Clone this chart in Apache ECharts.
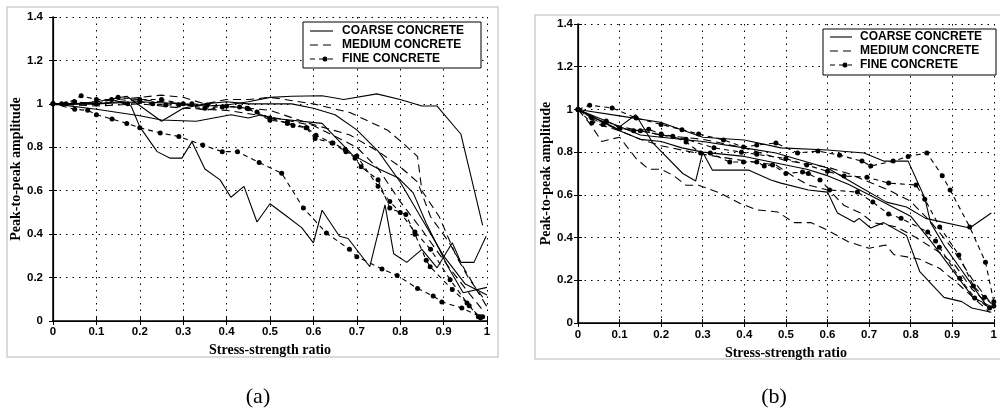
<!DOCTYPE html>
<html><head><meta charset="utf-8">
<script src="https://cdn.jsdelivr.net/npm/echarts@6/dist/echarts.min.js"></script>
<style>html,body{margin:0;padding:0;background:#fff}#c{width:1000px;height:415px}</style>
</head><body><div id="c"></div>
<script>
const seriesNames = ['COARSE CONCRETE', 'MEDIUM CONCRETE', 'FINE CONCRETE'];
const xLabel = 'Stress-strength ratio';
const yLabel = 'Peak-to-peak amplitude';
const panelLabels = ['(a)', '(b)'];
const xRange = [0, 1, 0.1];
const yRange = [0, 1.4, 0.2];

// ---- panel (a) ----
const a_coarse1 = [[0,1],[0.1,1.0],[0.2,1.01],[0.3,1.0],[0.35,0.99],[0.4,0.995],[0.45,1.01],[0.5,1.03],[0.55,1.035],[0.62,1.037],[0.67,1.02],[0.746,1.046],[0.8,1.02],[0.85,0.99],[0.885,0.99],[0.94,0.86],[0.99,0.44]];
const a_coarse2 = [[0,1],[0.05,1.0],[0.1,1.0],[0.15,1.01],[0.18,0.99],[0.2,0.894],[0.24,0.78],[0.27,0.75],[0.297,0.75],[0.32,0.825],[0.35,0.70],[0.385,0.65],[0.41,0.57],[0.44,0.62],[0.47,0.456],[0.5,0.54],[0.54,0.48],[0.573,0.43],[0.6,0.36],[0.62,0.51],[0.66,0.39],[0.68,0.38],[0.73,0.25],[0.765,0.535],[0.785,0.31],[0.815,0.27],[0.85,0.33],[0.885,0.245],[0.92,0.36],[0.94,0.27],[0.97,0.27],[0.998,0.39]];
const a_coarse3 = [[0,1],[0.1,0.975],[0.2,0.945],[0.25,0.926],[0.33,0.92],[0.41,0.95],[0.45,0.935],[0.48,0.95],[0.5,0.935],[0.62,0.91],[0.69,0.765],[0.746,0.705],[0.795,0.66],[0.83,0.59],[0.86,0.45],[0.91,0.25],[0.945,0.13],[1.0,0.155]];
const a_coarse4 = [[0,1],[0.05,1.0],[0.1,1.01],[0.17,1.035],[0.25,0.92],[0.3,0.98],[0.35,1.0],[0.4,1.01],[0.45,1.0],[0.5,1.0],[0.55,1.0],[0.6,0.98],[0.65,0.95],[0.7,0.88],[0.75,0.78],[0.8,0.64],[0.85,0.47],[0.9,0.3],[0.95,0.17],[1.0,0.12]];
const a_medium1 = [[0,1],[0.05,1.0],[0.1,1.01],[0.15,1.02],[0.2,1.03],[0.25,1.04],[0.3,1.03],[0.35,1.0],[0.4,1.02],[0.45,1.02],[0.5,1.03],[0.6,1.0],[0.684,0.96],[0.77,0.88],[0.806,0.82],[0.84,0.757],[0.85,0.6],[0.89,0.48],[0.93,0.295],[0.96,0.19],[0.99,0.11]];
const a_medium2 = [[0,1],[0.1,1.0],[0.2,1.02],[0.3,1.0],[0.35,0.97],[0.4,0.99],[0.45,0.98],[0.5,0.97],[0.59,0.91],[0.684,0.857],[0.75,0.78],[0.8,0.71],[0.84,0.64],[0.87,0.48],[0.91,0.37],[0.945,0.25],[0.977,0.14],[1.0,0.065]];
const a_medium3 = [[0,1],[0.1,0.99],[0.2,1.0],[0.3,0.98],[0.4,0.97],[0.5,0.94],[0.6,0.9],[0.7,0.8],[0.75,0.7],[0.8,0.55],[0.85,0.42],[0.9,0.28],[0.95,0.15],[0.99,0.05]];
const a_fine1 = [[0,1],[0.05,0.975],[0.08,0.97],[0.1,0.95],[0.136,0.93],[0.17,0.91],[0.2,0.89],[0.247,0.866],[0.29,0.85],[0.345,0.81],[0.39,0.78],[0.425,0.78],[0.475,0.73],[0.527,0.68],[0.577,0.52],[0.63,0.405],[0.683,0.33],[0.70,0.296],[0.758,0.24],[0.793,0.21],[0.84,0.15],[0.876,0.115],[0.896,0.088],[0.942,0.06],[0.984,0.02]];
const a_fine2 = [[0,1],[0.03,1.0],[0.065,1.037],[0.1,1.02],[0.135,1.02],[0.172,1.0],[0.2,1.01],[0.23,1.0],[0.26,0.995],[0.29,0.995],[0.32,1.0],[0.355,0.995],[0.39,0.986],[0.43,0.986],[0.45,0.977],[0.47,0.963],[0.5,0.935],[0.54,0.91],[0.553,0.9],[0.583,0.89],[0.604,0.84],[0.645,0.82],[0.673,0.79],[0.696,0.75],[0.71,0.71],[0.749,0.65],[0.776,0.52],[0.813,0.49],[0.834,0.40],[0.86,0.28],[0.869,0.25],[0.92,0.145],[0.954,0.083],[0.98,0.02],[0.99,0.02]];
const a_fine3 = [[0,1],[0.02,1.0],[0.05,1.01],[0.1,1.0],[0.15,1.03],[0.2,1.02],[0.25,1.02],[0.3,1.0],[0.35,0.98],[0.4,0.99],[0.447,0.98],[0.5,0.925],[0.54,0.915],[0.585,0.89],[0.606,0.855],[0.643,0.82],[0.675,0.78],[0.7,0.76],[0.749,0.62],[0.776,0.55],[0.8,0.5],[0.834,0.41],[0.87,0.33],[0.915,0.19],[0.959,0.07],[0.985,0.015]];

// ---- panel (b) ----
const b_coarse1 = [[0,1],[0.1,0.97],[0.198,0.94],[0.3,0.87],[0.4,0.857],[0.488,0.82],[0.6,0.81],[0.688,0.796],[0.735,0.758],[0.794,0.758],[0.834,0.585],[0.848,0.47],[0.883,0.355],[0.918,0.26],[0.954,0.16],[0.987,0.07]];
const b_coarse2 = [[0,1],[0.1,0.92],[0.15,0.88],[0.2,0.87],[0.3,0.85],[0.4,0.82],[0.476,0.796],[0.6,0.726],[0.67,0.646],[0.742,0.566],[0.79,0.543],[0.836,0.49],[0.942,0.445],[0.994,0.515]];
const b_coarse3 = [[0,1],[0.094,0.91],[0.139,0.975],[0.18,0.843],[0.252,0.70],[0.283,0.665],[0.3,0.8],[0.323,0.716],[0.41,0.716],[0.464,0.67],[0.488,0.655],[0.554,0.623],[0.6,0.613],[0.624,0.515],[0.664,0.473],[0.676,0.49],[0.704,0.445],[0.735,0.47],[0.79,0.41],[0.822,0.24],[0.88,0.12],[0.923,0.10],[0.947,0.07],[0.994,0.05]];
const b_coarse4 = [[0,1],[0.1,0.9],[0.15,0.86],[0.2,0.85],[0.25,0.82],[0.3,0.8],[0.4,0.78],[0.5,0.74],[0.55,0.72],[0.6,0.69],[0.65,0.65],[0.7,0.6],[0.75,0.55],[0.8,0.5],[0.85,0.38],[0.9,0.25],[0.95,0.12],[1.0,0.07]];
const b_medium1 = [[0,1],[0.03,0.93],[0.057,0.85],[0.1,0.87],[0.14,0.77],[0.17,0.72],[0.2,0.72],[0.23,0.69],[0.26,0.645],[0.29,0.645],[0.34,0.61],[0.39,0.56],[0.43,0.53],[0.48,0.52],[0.52,0.47],[0.56,0.47],[0.6,0.435],[0.65,0.38],[0.7,0.35],[0.74,0.365],[0.76,0.32],[0.82,0.3],[0.87,0.255],[0.91,0.19],[0.95,0.12],[0.99,0.05]];
const b_medium2 = [[0,1],[0.05,0.93],[0.1,0.9],[0.15,0.86],[0.2,0.83],[0.3,0.79],[0.4,0.76],[0.476,0.74],[0.523,0.68],[0.554,0.646],[0.605,0.62],[0.64,0.55],[0.68,0.515],[0.71,0.47],[0.766,0.45],[0.813,0.40],[0.87,0.33],[0.907,0.27],[0.947,0.16],[0.98,0.1]];
const b_medium3 = [[0,1],[0.05,0.95],[0.1,0.92],[0.2,0.88],[0.3,0.86],[0.4,0.82],[0.5,0.76],[0.6,0.73],[0.65,0.7],[0.7,0.66],[0.75,0.62],[0.8,0.57],[0.85,0.47],[0.9,0.35],[0.95,0.2],[0.99,0.1]];
const b_fine1 = [[0,1],[0.028,1.02],[0.082,1.007],[0.14,0.96],[0.2,0.93],[0.25,0.905],[0.29,0.885],[0.35,0.857],[0.398,0.824],[0.43,0.833],[0.476,0.843],[0.528,0.796],[0.577,0.805],[0.629,0.786],[0.683,0.758],[0.704,0.735],[0.758,0.758],[0.794,0.78],[0.839,0.796],[0.876,0.69],[0.895,0.623],[0.942,0.45],[0.98,0.285],[1.0,0.1]];
const b_fine2 = [[0,1],[0.033,0.936],[0.068,0.946],[0.1,0.913],[0.134,0.9],[0.17,0.907],[0.2,0.885],[0.228,0.875],[0.26,0.847],[0.295,0.796],[0.318,0.796],[0.365,0.754],[0.398,0.754],[0.43,0.754],[0.448,0.735],[0.468,0.74],[0.5,0.70],[0.54,0.707],[0.554,0.70],[0.582,0.67],[0.605,0.623],[0.672,0.613],[0.709,0.566],[0.747,0.51],[0.777,0.49],[0.841,0.426],[0.86,0.384],[0.869,0.355],[0.918,0.21],[0.954,0.117],[0.99,0.07]];
const b_fine3 = [[0,1],[0.033,0.96],[0.06,0.93],[0.1,0.91],[0.15,0.9],[0.2,0.88],[0.26,0.86],[0.327,0.82],[0.393,0.80],[0.43,0.79],[0.5,0.77],[0.55,0.74],[0.6,0.71],[0.64,0.688],[0.695,0.683],[0.747,0.655],[0.813,0.646],[0.834,0.58],[0.87,0.45],[0.916,0.318],[0.951,0.173],[0.978,0.12],[1.0,0.08]];

const panelA = { coarse: [a_coarse1, a_coarse2, a_coarse3, a_coarse4], medium: [a_medium1, a_medium2, a_medium3], fine: [a_fine1, a_fine2, a_fine3] };
const panelB = { coarse: [b_coarse1, b_coarse2, b_coarse3, b_coarse4], medium: [b_medium1, b_medium2, b_medium3], fine: [b_fine1, b_fine2, b_fine3] };

const dashMedium = [8, 5];
const dashFine = [5, 4];
const styles = {
  coarse: { name: seriesNames[0], symbol: 'none', itemStyle: { color: '#000' }, lineStyle: { color: '#000', width: 1.1, type: 'solid' } },
  medium: { name: seriesNames[1], symbol: 'none', itemStyle: { color: '#000' }, lineStyle: { color: '#000', width: 1.1, type: dashMedium } },
  fine:   { name: seriesNames[2], symbol: 'circle', symbolSize: 5, showAllSymbol: true, itemStyle: { color: '#000' }, lineStyle: { color: '#000', width: 1.1, type: dashFine } }
};

const series = [];
[panelA, panelB].forEach((p, gi) => {
  ['coarse', 'medium', 'fine'].forEach(kind => {
    p[kind].forEach(d => {
      series.push(Object.assign({ type: 'line', xAxisIndex: gi * 2, yAxisIndex: gi * 2, data: d, animation: false, z: 3, silent: true }, JSON.parse(JSON.stringify(styles[kind]))));
    });
  });
});

const tickFont = { fontFamily: 'Liberation Sans', fontWeight: 'bold', fontSize: 11.5, color: '#000' };
const nameFont = { fontFamily: 'Liberation Serif', fontWeight: 'bold', fontSize: 14, color: '#000' };
const grids = [
  { left: 53, top: 17, width: 434, height: 304, xm: 5, ym: 10, xg: 20, yg: 27 },
  { left: 578, top: 24, width: 424, height: 299, xm: 6, ym: 5, xg: 22, yg: 25 }
];
const fmt = v => String(Math.round(v * 10) / 10);
const xAxes = [], yAxes = [];
grids.forEach((g, i) => {
  xAxes.push({ gridIndex: i, type: 'value', min: xRange[0], max: xRange[1], interval: xRange[2], name: xLabel, nameLocation: 'middle', nameGap: g.xg, nameTextStyle: nameFont,
    axisLine: { show: true, lineStyle: { color: '#000', width: 1.5 } }, axisTick: { show: true, inside: true, length: 4, lineStyle: { color: '#000' } },
    axisLabel: Object.assign({ margin: g.xm, formatter: fmt }, tickFont),
    splitLine: { show: true, lineStyle: { color: '#000', type: [1.5, 5], width: 1 } } });
  xAxes.push({ gridIndex: i, type: 'value', position: 'top', min: xRange[0], max: xRange[1], interval: xRange[2],
    axisLine: { show: true, lineStyle: { color: '#000', width: 1.2 } }, axisTick: { show: true, inside: true, length: 4, lineStyle: { color: '#000' } },
    axisLabel: { show: false }, splitLine: { show: false } });
  yAxes.push({ gridIndex: i, type: 'value', min: yRange[0], max: yRange[1], interval: yRange[2], name: yLabel, nameLocation: 'middle', nameGap: g.yg, nameTextStyle: nameFont,
    axisLine: { show: true, lineStyle: { color: '#000', width: 1.5 } }, axisTick: { show: true, inside: true, length: 4, lineStyle: { color: '#000' } },
    axisLabel: Object.assign({ margin: g.ym, formatter: fmt }, tickFont),
    splitLine: { show: true, lineStyle: { color: '#000', type: [1.5, 5], width: 1 } } });
  yAxes.push({ gridIndex: i, type: 'value', position: 'right', min: yRange[0], max: yRange[1], interval: yRange[2],
    axisLine: { show: true, lineStyle: { color: '#000', width: 1.2 } }, axisTick: { show: true, inside: true, length: 4, lineStyle: { color: '#000' } },
    axisLabel: { show: false }, splitLine: { show: false } });
});

// hand-drawn legend boxes (line samples + real text)
function legendGraphic(bx, by, bw, bh, lx0, lx1, tx, rows, dotX) {
  const els = [{ type: 'rect', z: 20, shape: { x: bx, y: by, width: bw, height: bh }, style: { fill: '#fff', stroke: '#000', lineWidth: 1 }, silent: true }];
  const dashes = [null, dashMedium, dashFine];
  rows.forEach((ry, k) => {
    els.push({ type: 'line', z: 21, shape: { x1: lx0, y1: ry, x2: lx1, y2: ry }, style: { stroke: '#000', lineWidth: 1.1, lineDash: dashes[k] }, silent: true });
    if (k === 2) els.push({ type: 'circle', z: 22, shape: { cx: dotX, cy: ry, r: 2.5 }, style: { fill: '#000' }, silent: true });
    els.push({ type: 'text', z: 22, x: tx, y: ry, style: { text: seriesNames[k], font: 'bold 12px "Liberation Sans"', fill: '#000', textAlign: 'left', textVerticalAlign: 'middle' }, silent: true });
  });
  return els;
}

const chart = echarts.init(document.getElementById('c'), null, { renderer: 'canvas' });
chart.setOption({
  backgroundColor: '#fff',
  animation: false,
  grid: grids.map(g => ({ left: g.left, top: g.top, width: g.width, height: g.height, containLabel: false })),
  xAxis: xAxes,
  yAxis: yAxes,
  series: series,
  graphic: [
    { type: 'rect', shape: { x: 7, y: 7, width: 491, height: 350 }, style: { fill: 'none', stroke: '#cfcfcf', lineWidth: 1.5 }, silent: true },
    { type: 'rect', shape: { x: 535, y: 15, width: 480, height: 344 }, style: { fill: 'none', stroke: '#cfcfcf', lineWidth: 1.5 }, silent: true },
    { type: 'text', x: 258, y: 397, style: { text: panelLabels[0], font: '22px "Liberation Serif"', fill: '#000', textAlign: 'center', textVerticalAlign: 'middle' } },
    { type: 'text', x: 774, y: 397, style: { text: panelLabels[1], font: '22px "Liberation Serif"', fill: '#000', textAlign: 'center', textVerticalAlign: 'middle' } }
  ].concat(
    legendGraphic(303, 22, 178, 46, 310, 333, 342, [31, 45, 59], 325),
    legendGraphic(823, 29, 173, 46, 830, 852, 860, [37, 51, 65], 845)
  )
});
</script>
</body></html>
